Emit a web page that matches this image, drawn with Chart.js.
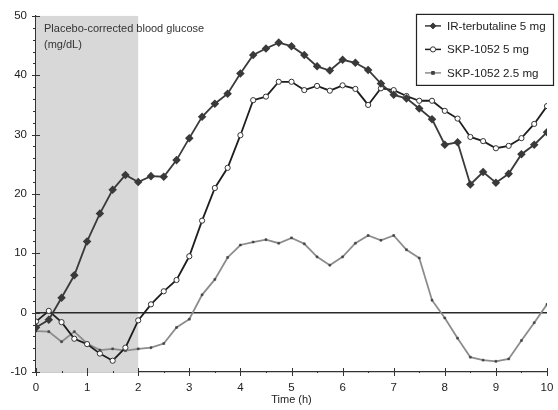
<!DOCTYPE html>
<html>
<head>
<meta charset="utf-8">
<script src="https://cdn.jsdelivr.net/npm/chart.js@4/dist/chart.umd.min.js"></script>
<style>
  html, body { margin: 0; padding: 0; background: #fff; }
  #wrap { width: 558px; height: 410px; position: relative; }
</style>
</head>
<body>
<div id="wrap"><canvas id="glucoseChart" width="558" height="410"></canvas></div>
<script>
// time points (h)
const times = [0, 0.25, 0.5, 0.75, 1, 1.25, 1.5, 1.75, 2, 2.25, 2.5, 2.75, 3, 3.25, 3.5, 3.75,
    4, 4.25, 4.5, 4.75, 5, 5.25, 5.5, 5.75, 6, 6.25, 6.5, 6.75, 7, 7.25, 7.5, 7.75,
    8, 8.25, 8.5, 8.75, 9, 9.25, 9.5, 9.75, 10];

const irTerbutaline5 = [-2.5, -1.2, 2.5, 6.3, 12.0, 16.7, 20.7, 23.2, 22.0, 23.0, 22.9, 25.7, 29.4, 33.0, 35.2, 36.9,
    40.3, 43.4, 44.5, 45.5, 44.9, 43.4, 41.5, 40.8, 42.6, 42.1, 40.9, 38.6, 36.7, 36.1, 34.4, 32.6,
    28.3, 28.7, 21.6, 23.7, 21.9, 23.4, 26.7, 28.3, 30.4];

const skp5 = [-1.5, 0.3, -1.6, -4.4, -5.3, -6.9, -8.1, -5.9, -1.3, 1.4, 3.6, 5.5, 9.5, 15.5, 21.0, 24.4,
    29.9, 35.8, 36.4, 38.9, 38.9, 37.5, 38.2, 37.4, 38.3, 37.7, 35.0, 37.8, 37.5, 36.5, 35.7, 35.7,
    34.0, 32.7, 29.6, 28.9, 27.7, 28.1, 29.4, 31.8, 34.8];

const skp25 = [-3.1, -3.2, -4.9, -3.2, -5.2, -6.3, -6.1, -6.4, -6.1, -5.9, -5.2, -2.5, -1.1, 3.0, 5.6, 9.3,
    11.4, 11.9, 12.3, 11.7, 12.6, 11.6, 9.4, 8.0, 9.4, 11.7, 13.0, 12.2, 13.0, 10.6, 9.2, 2.1,
    -0.9, -4.3, -7.5, -8.0, -8.2, -7.8, -4.7, -1.7, 1.4];

const seriesLabels = ['IR-terbutaline 5 mg', 'SKP-1052 5 mg', 'SKP-1052 2.5 mg'];
const xTicks = [0, 1, 2, 3, 4, 5, 6, 7, 8, 9, 10];
const yTicks = [-10, 0, 10, 20, 30, 40, 50];
const placeboWindow = [0, 2];
const noteLines = ['Placebo-corrected blood glucose', '(mg/dL)'];

const FONT = '"Liberation Sans", Arial, sans-serif';

function toPoints(values) {
    return times.map((t, i) => ({ x: t, y: values[i] }));
}

function drawMarker(ctx, ds, cx, cy) {
    ctx.save();
    ctx.fillStyle = ds.pointBackgroundColor;
    ctx.strokeStyle = ds.pointBorderColor;
    ctx.lineWidth = 1;
    const r = ds.pointRadius;
    ctx.beginPath();
    if (ds.pointStyle === 'rectRot') {
        ctx.moveTo(cx, cy - r); ctx.lineTo(cx + r, cy); ctx.lineTo(cx, cy + r); ctx.lineTo(cx - r, cy);
        ctx.closePath();
    } else if (ds.pointStyle === 'circle') {
        ctx.arc(cx, cy, r, 0, Math.PI * 2);
    } else {
        ctx.rect(cx - r, cy - r, r * 2, r * 2);
    }
    ctx.fill();
    ctx.stroke();
    ctx.restore();
}

// shaded window, zero line, note text, tick marks, legend box
const backdropPlugin = {
    id: 'backdrop',
    beforeDatasetsDraw(chart) {
        const { ctx, chartArea, scales: { x, y } } = chart;
        ctx.save();
        ctx.fillStyle = '#d8d8d8';
        const x0 = x.getPixelForValue(placeboWindow[0]);
        const x1 = x.getPixelForValue(placeboWindow[1]);
        ctx.fillRect(x0, chartArea.top, x1 - x0, chartArea.bottom - chartArea.top);

        ctx.fillStyle = '#333';
        ctx.font = '11px ' + FONT;
        ctx.textBaseline = 'middle';
        ctx.fillText(noteLines[0], x0 + 8, chartArea.top + 13);
        ctx.fillText(noteLines[1], x0 + 8, chartArea.top + 29);

        const zy = y.getPixelForValue(0);
        ctx.strokeStyle = '#2a2a2a';
        ctx.lineWidth = 1.5;
        ctx.beginPath();
        ctx.moveTo(chartArea.left, zy);
        ctx.lineTo(chartArea.right, zy);
        ctx.stroke();
        ctx.restore();
    },
    afterDraw(chart) {
        const { ctx, chartArea, scales: { x, y } } = chart;
        ctx.save();
        ctx.strokeStyle = '#333';
        ctx.lineWidth = 1;
        // y ticks: major every 10 (crossing), minor every 2 (outside)
        for (let v = -10; v <= 50; v += 2) {
            const py = Math.round(y.getPixelForValue(v)) + 0.5;
            const major = v % 10 === 0;
            ctx.beginPath();
            ctx.moveTo(chartArea.left - (major ? 4 : 3), py);
            ctx.lineTo(chartArea.left + (major ? 4 : 0), py);
            ctx.stroke();
        }
        // x ticks: major every 1, minor every 0.5
        for (let v = 0; v <= 10; v += 0.5) {
            const px = Math.round(x.getPixelForValue(v)) + 0.5;
            const major = Number.isInteger(v);
            ctx.beginPath();
            ctx.moveTo(px, chartArea.bottom - (major ? 4 : 1));
            ctx.lineTo(px, chartArea.bottom + (major ? 4 : 1));
            ctx.stroke();
        }

        // legend box
        const bx = chartArea.right - 131, by = chartArea.top - 2, bw = 137, bh = 71;
        ctx.fillStyle = '#fff';
        ctx.fillRect(bx, by, bw, bh);
        ctx.strokeStyle = '#222';
        ctx.lineWidth = 1.2;
        ctx.strokeRect(bx + 0.5, by + 0.5, bw, bh);
        ctx.font = '11.6px ' + FONT;
        ctx.textBaseline = 'middle';
        chart.data.datasets.forEach((ds, i) => {
            const ly = by + 12 + i * 23.5;
            ctx.strokeStyle = ds.borderColor;
            ctx.lineWidth = 1.5;
            ctx.beginPath();
            ctx.moveTo(bx + 9, ly);
            ctx.lineTo(bx + 25, ly);
            ctx.stroke();
            drawMarker(ctx, ds, bx + 17, ly);
            ctx.fillStyle = '#222';
            ctx.fillText(seriesLabels[i], bx + 31, ly + 0.5);
        });
        ctx.restore();
    }
};

const ctx = document.getElementById('glucoseChart').getContext('2d');
new Chart(ctx, {
    type: 'line',
    data: {
        datasets: [
            {
                label: seriesLabels[0],
                data: toPoints(irTerbutaline5),
                borderColor: '#3a3a3a',
                borderWidth: 1.8,
                pointStyle: 'rectRot',
                pointRadius: 3,
                pointBackgroundColor: '#3a3a3a',
                pointBorderColor: '#3a3a3a',
                tension: 0
            },
            {
                label: seriesLabels[1],
                data: toPoints(skp5),
                borderColor: '#1e1e1e',
                borderWidth: 1.8,
                pointStyle: 'circle',
                pointRadius: 2.6,
                pointBackgroundColor: '#fff',
                pointBorderColor: '#333',
                pointBorderWidth: 1,
                tension: 0
            },
            {
                label: seriesLabels[2],
                data: toPoints(skp25),
                borderColor: '#8c8c8c',
                borderWidth: 1.8,
                pointStyle: 'rect',
                pointRadius: 1.4,
                pointBackgroundColor: '#444',
                pointBorderColor: '#444',
                pointBorderWidth: 0.5,
                tension: 0
            }
        ]
    },
    options: {
        responsive: false,
        animation: false,
        devicePixelRatio: 1,
        layout: { padding: { top: 15, right: 11, left: 0, bottom: 0 } },
        plugins: {
            legend: { display: false },
            tooltip: { enabled: false }
        },
        scales: {
            x: {
                type: 'linear',
                min: 0,
                max: 10,
                afterBuildTicks: scale => { scale.ticks = xTicks.map(v => ({ value: v })); },
                afterFit: scale => { scale.height = 38; },
                grid: { display: false, drawTicks: true, tickLength: 7 },
                border: { display: true, color: '#333', width: 1.2 },
                ticks: { color: '#222', font: { size: 11.5, family: FONT }, padding: 2, maxRotation: 0 },
                title: { display: true, text: 'Time (h)', color: '#222', font: { size: 11, family: FONT }, padding: { top: 1, bottom: 3 } }
            },
            y: {
                min: -10,
                max: 50,
                afterBuildTicks: scale => { scale.ticks = yTicks.map(v => ({ value: v })); },
                afterFit: scale => { scale.width = 36; },
                grid: { display: false, drawTicks: false, tickLength: 0 },
                border: { display: true, color: '#333', width: 1.2 },
                ticks: { color: '#222', font: { size: 11.5, family: FONT }, padding: 9 }
            }
        }
    },
    plugins: [backdropPlugin]
});
</script>
</body>
</html>
